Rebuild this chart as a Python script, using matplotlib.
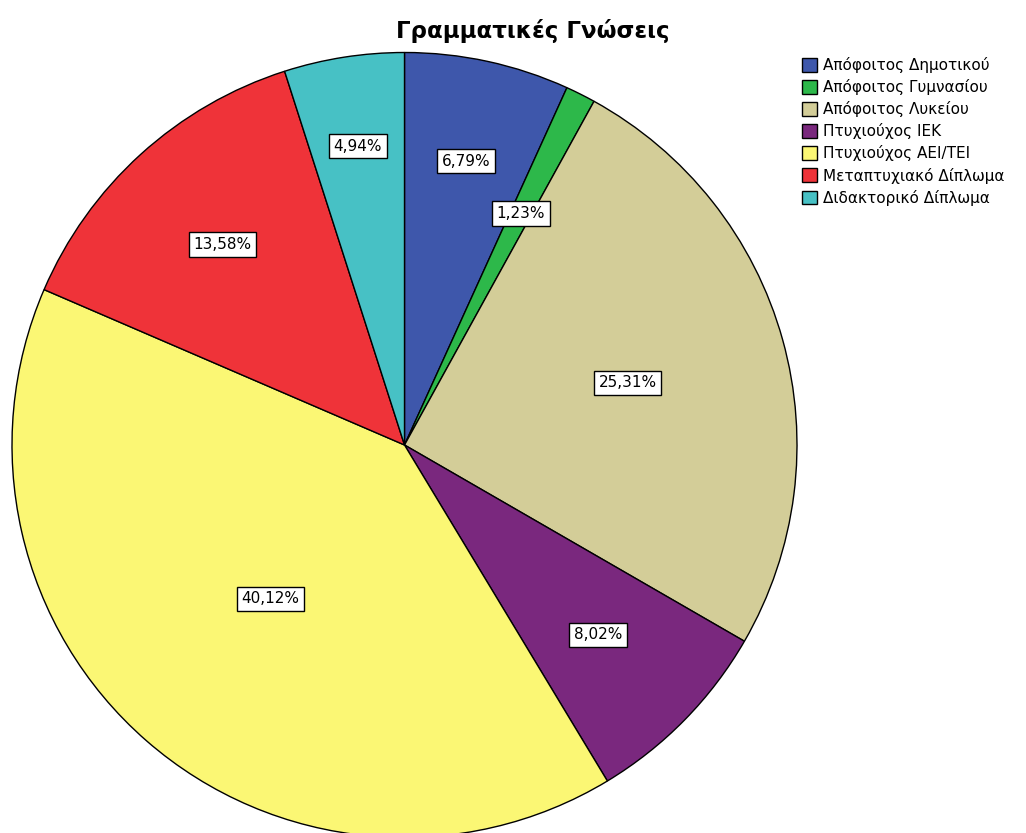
import matplotlib
matplotlib.use("Agg")
import matplotlib.pyplot as plt
import numpy as np

plt.rcParams['font.family'] = ['DejaVu Sans']

title = "Γραμματικές Γνώσεις"
categories = ["Απόφοιτος Δημοτικού", "Απόφοιτος Γυμνασίου", "Απόφοιτος Λυκείου",
              "Πτυχιούχος ΙΕΚ", "Πτυχιούχος ΑΕΙ/ΤΕΙ", "Μεταπτυχιακό Δίπλωμα",
              "Διδακτορικό Δίπλωμα"]
values = [6.79, 1.23, 25.31, 8.02, 40.12, 13.58, 4.94]
colors = ["#3E57AB", "#2DB84A", "#D3CD98", "#7A287E", "#FBF774", "#EF3339", "#47C1C5"]
label_dist = [0.74, 0.66, 0.59, 0.69, 0.52, 0.69, 0.77]

W, H = 1026, 833
fig = plt.figure(figsize=(W/100, H/100), dpi=100)
cx, cy, r = 404.5, 833-445, 392.5
ax = fig.add_axes([(cx-r)/W, (cy-r)/H, 2*r/W, 2*r/H])
wedges, _ = ax.pie(values, colors=colors, startangle=90, counterclock=False,
                   radius=1, wedgeprops=dict(edgecolor='black', linewidth=1))
ax.set_xlim(-1.0, 1.0)
ax.set_ylim(-1.0, 1.0)
ax.set_aspect('equal')
ax.axis('off')

for w, v, d in zip(wedges, values, label_dist):
    ang = np.deg2rad((w.theta1 + w.theta2) / 2)
    x, y = d*np.cos(ang), d*np.sin(ang)
    ax.text(x, y, f"{v:.2f}%".replace('.', ','), ha='center', va='center', fontsize=11,
            bbox=dict(boxstyle='square,pad=0.3', facecolor='white', edgecolor='black', linewidth=1))

fig.text(533/W, 1-31/H, title, ha='center', va='center', fontsize=16.5, fontweight='bold')

leg = fig.legend(wedges, categories, loc='upper left', bbox_to_anchor=(802/W, 1-57/H),
                 frameon=False, fontsize=11, handlelength=1.0, handleheight=1.0,
                 handletextpad=0.4, labelspacing=0.4, borderaxespad=0, borderpad=0)

fig.savefig("out.png", dpi=100)
